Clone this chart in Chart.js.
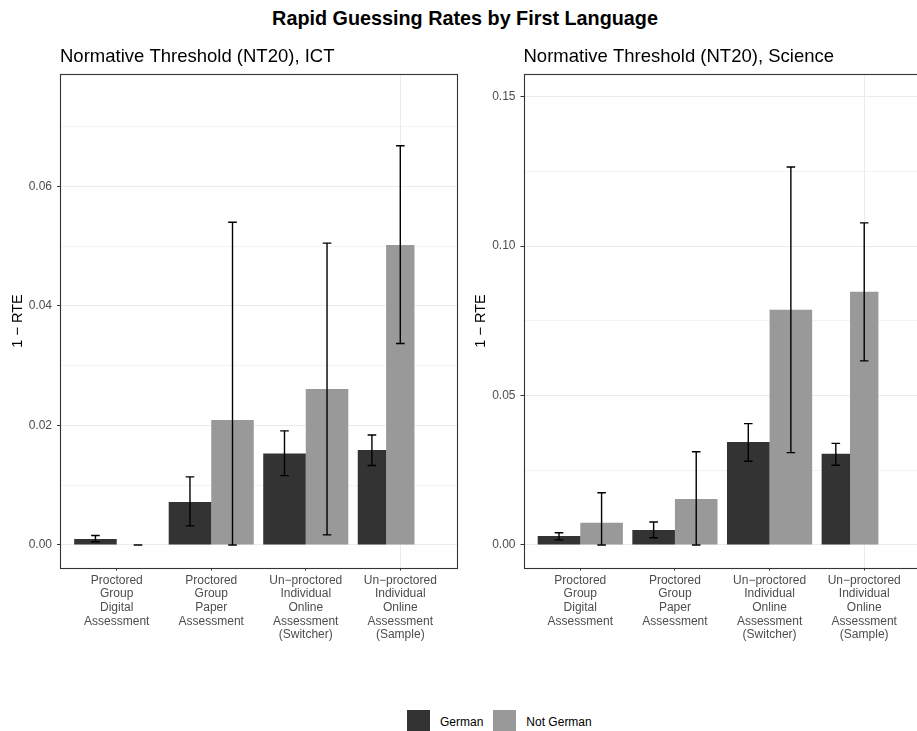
<!DOCTYPE html>
<html>
<head>
<meta charset="utf-8">
<script src="https://cdn.jsdelivr.net/npm/chart.js@4.4.1/dist/chart.umd.min.js"></script>
<style>
  html, body { margin: 0; padding: 0; background: #fff; width: 917px; height: 731px; overflow: hidden; }
  body { position: relative; font-family: "Liberation Sans", Arial, sans-serif; }
  #mainTitle { position: absolute; left: 0; top: 8.5px; width: 930px; text-align: center;
               font-weight: bold; font-size: 19.8px; line-height: 19.8px; color: #000; }
  .panel { position: absolute; top: 40px; }
  #ictPanel { left: 0; }
  #sciPanel { left: 460px; }
  #legend { position: absolute; left: 407px; top: 710px; display: flex; align-items: center;
            font-size: 12px; color: #000; }
  #legend .item { display: flex; align-items: center; margin-right: 10px; }
  #legend .key { width: 23px; height: 23px; margin-right: 10px; }
</style>
</head>
<body>
<div id="mainTitle">Rapid Guessing Rates by First Language</div>
<div class="panel" id="ictPanel"><canvas id="ictChart" width="460" height="618"></canvas></div>
<div class="panel" id="sciPanel"><canvas id="sciChart" width="464" height="618"></canvas></div>
<div id="legend"></div>
<script>
// Assessment modes (x categories), one line per label row
const categories = [
  'Proctored\nGroup\nDigital\nAssessment',
  'Proctored\nGroup\nPaper\nAssessment',
  'Un\u2212proctored\nIndividual\nOnline\nAssessment\n(Switcher)',
  'Un\u2212proctored\nIndividual\nOnline\nAssessment\n(Sample)'
];
const seriesNames = ['German', 'Not German'];
const seriesColors = ['#333333', '#999999'];

// ICT: rapid guessing rate and interval bounds
const ictGerman        = [0.0010, 0.0072, 0.0153, 0.0159];
const ictGermanLow     = [0.00055, 0.0032, 0.0116, 0.0133];
const ictGermanHigh    = [0.0016, 0.0114, 0.0191, 0.0184];
const ictNotGerman     = [0.0000, 0.0209, 0.0261, 0.0502];
const ictNotGermanLow  = [0.0000, 0.0000, 0.0017, 0.0337];
const ictNotGermanHigh = [0.00002, 0.0540, 0.0505, 0.0668];

// Science: rapid guessing rate and interval bounds
const sciGerman        = [0.0030, 0.0050, 0.0345, 0.0305];
const sciGermanLow     = [0.0017, 0.0024, 0.0280, 0.0267];
const sciGermanHigh    = [0.0041, 0.0077, 0.0406, 0.0340];
const sciNotGerman     = [0.0074, 0.0154, 0.0787, 0.0847];
const sciNotGermanLow  = [0.0000, 0.0000, 0.0309, 0.0616];
const sciNotGermanHigh = [0.0175, 0.0312, 0.1265, 0.1078];

// Language group without a value; it only occupies a dodge slot in the last category
const unknownLanguage = [null, null, null, 0];

// y tick positions (major + minor) per panel
const ictTicks = [0, 0.01, 0.02, 0.03, 0.04, 0.05, 0.06, 0.07];
const sciTicks = [0, 0.025, 0.05, 0.075, 0.10, 0.125, 0.15];

const FONT = '"Liberation Sans", Arial, sans-serif';
Chart.defaults.font.family = FONT;

const toPoints = arr => arr.map((v, i) => ({ x: i + 1, y: v }));

// Error bars and the panel frame
const panelDecor = {
  id: 'panelDecor',
  afterDatasetsDraw(chart) {
    const ctx = chart.ctx;
    const yScale = chart.scales.y;
    ctx.save();
    ctx.strokeStyle = '#000';
    ctx.lineWidth = 1.4;
    chart.data.datasets.forEach((ds, di) => {
      if (!ds.errLow) return;
      const meta = chart.getDatasetMeta(di);
      meta.data.forEach((bar, i) => {
        const lo = yScale.getPixelForValue(ds.errLow[i]);
        const hi = yScale.getPixelForValue(ds.errHigh[i]);
        const x = bar.x, w = 4.3;
        ctx.beginPath();
        ctx.moveTo(x, lo); ctx.lineTo(x, hi);
        ctx.moveTo(x - w, lo); ctx.lineTo(x + w, lo);
        ctx.moveTo(x - w, hi); ctx.lineTo(x + w, hi);
        ctx.stroke();
      });
    });
    const a = chart.chartArea;
    ctx.strokeStyle = '#333333';
    ctx.lineWidth = 1.1;
    ctx.strokeRect(Math.round(a.left) + 0.5, Math.round(a.top) + 0.5,
                   Math.round(a.right - a.left), Math.round(a.bottom - a.top));
    ctx.restore();
  }
};

function makePanel(canvasId, cfg) {
  const isMajor = v => Math.abs(v / cfg.majorStep - Math.round(v / cfg.majorStep)) < 1e-9;
  return new Chart(document.getElementById(canvasId), {
    type: 'bar',
    data: {
      datasets: [
        { label: seriesNames[0], data: toPoints(cfg.german), backgroundColor: seriesColors[0],
          errLow: cfg.germanLow, errHigh: cfg.germanHigh },
        { label: seriesNames[1], data: toPoints(cfg.notGerman), backgroundColor: seriesColors[1],
          errLow: cfg.notGermanLow, errHigh: cfg.notGermanHigh },
        { label: 'NA', data: toPoints(unknownLanguage), backgroundColor: 'rgba(0,0,0,0)' }
      ]
    },
    options: {
      responsive: false,
      animation: false,
      devicePixelRatio: 1,
      skipNull: true,
      datasets: { bar: { categoryPercentage: 0.9, barPercentage: 1.0, borderWidth: 0 } },
      layout: { padding: { left: 0, right: 3, top: 0, bottom: 0 } },
      plugins: {
        legend: { display: false },
        tooltip: { enabled: false },
        title: {
          display: true, text: cfg.title, align: 'start', fullSize: false,
          color: '#000', font: { size: 18.5, weight: 'normal', lineHeight: 1.2 },
          padding: { top: 5.4, bottom: 6.4 }
        }
      },
      scales: {
        x: {
          type: 'linear', min: 0.4, max: 4.6, offset: false,
          afterBuildTicks: s => { s.ticks = categories.map((c, i) => ({ value: i + 1 })); },
          afterFit: s => { s.height = 90; },
          ticks: {
            callback: v => categories[v - 1].split('\n'),
            color: '#4d4d4d', font: { size: 12, lineHeight: 1.14 },
            padding: 3, maxRotation: 0, autoSkip: false
          },
          grid: {
            offset: false,
            color: c => (c.tick && c.tick.value === 4) ? '#ebebeb' : 'rgba(0,0,0,0)',
            lineWidth: 1, tickColor: '#333333', tickLength: 2.5, tickWidth: 1
          },
          border: { display: false }
        },
        y: {
          min: cfg.yMin, max: cfg.yMax,
          afterBuildTicks: s => { s.ticks = cfg.ticks.map(v => ({ value: v })); },
          afterFit: s => { s.width = cfg.yAxisWidth; },
          ticks: {
            callback: v => isMajor(v) ? v.toFixed(2) : '',
            color: '#4d4d4d', font: { size: 12 }, padding: 5
          },
          grid: {
            color: '#ebebeb',
            lineWidth: c => (c.tick && isMajor(c.tick.value)) ? 1 : 0.6,
            tickColor: c => (c.tick && isMajor(c.tick.value)) ? '#333333' : 'rgba(0,0,0,0)',
            tickLength: 3, tickWidth: 1
          },
          border: { display: false },
          title: {
            display: true, text: '1 \u2212 RTE', color: '#000',
            font: { size: 14.5, lineHeight: 1.2 },
            padding: { top: cfg.yTitlePad, bottom: 0 }
          }
        }
      }
    },
    plugins: [panelDecor]
  });
}

makePanel('ictChart', {
  title: 'Normative Threshold (NT20), ICT',
  german: ictGerman, germanLow: ictGermanLow, germanHigh: ictGermanHigh,
  notGerman: ictNotGerman, notGermanLow: ictNotGermanLow, notGermanHigh: ictNotGermanHigh,
  ticks: ictTicks, majorStep: 0.02, yMin: -0.00385, yMax: 0.0788,
  yAxisWidth: 60, yTitlePad: 9.3
});

makePanel('sciChart', {
  title: 'Normative Threshold (NT20), Science',
  german: sciGerman, germanLow: sciGermanLow, germanHigh: sciGermanHigh,
  notGerman: sciNotGerman, notGermanLow: sciNotGermanLow, notGermanHigh: sciNotGermanHigh,
  ticks: sciTicks, majorStep: 0.05, yMin: -0.0077, yMax: 0.1576,
  yAxisWidth: 63.5, yTitlePad: 12.3
});

// Shared legend below both panels
const legend = document.getElementById('legend');
seriesNames.forEach((name, i) => {
  const item = document.createElement('div');
  item.className = 'item';
  const key = document.createElement('div');
  key.className = 'key';
  key.style.background = seriesColors[i];
  const label = document.createElement('span');
  label.textContent = name;
  item.appendChild(key);
  item.appendChild(label);
  legend.appendChild(item);
});
</script>
</body>
</html>
